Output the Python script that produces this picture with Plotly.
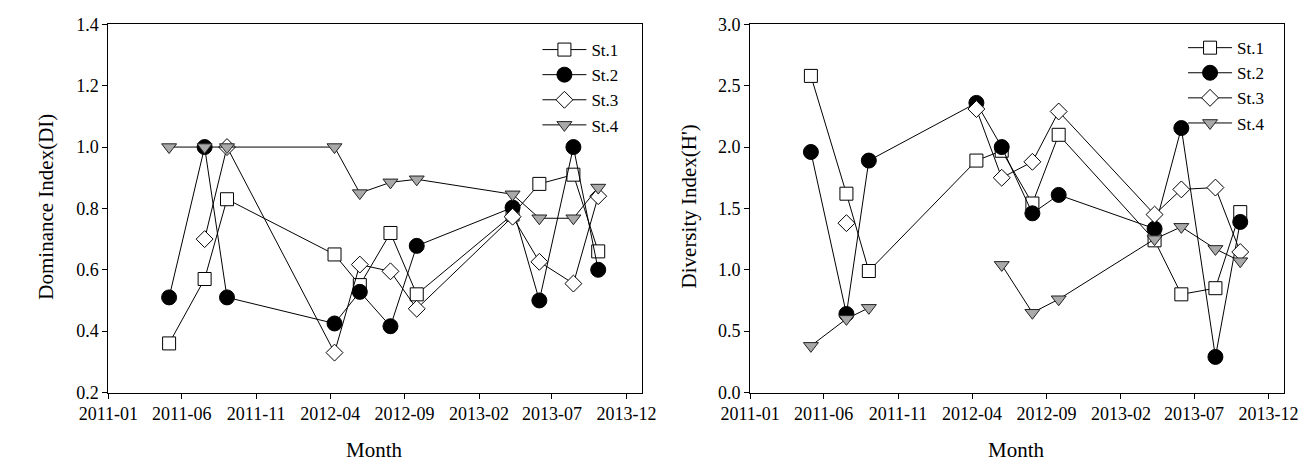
import plotly.graph_objects as go

# ---------------- data ----------------
months = ["2011-05-06", "2011-07-18", "2011-09-02", "2012-04-10", "2012-06-01",
          "2012-08-03", "2012-09-26", "2013-04-11", "2013-06-05", "2013-08-14", "2013-10-04"]
stations = ["St.1", "St.2", "St.3", "St.4"]

# Dominance Index (DI)
di_st1 = [0.36, 0.57, 0.83, 0.65, 0.55, 0.72, 0.52, 0.78, 0.88, 0.91, 0.66]
di_st2 = [0.51, 1.00, 0.51, 0.425, 0.528, 0.416, 0.678, 0.803, 0.50, 1.00, 0.60]
di_st3 = [None, 0.70, 1.00, 0.33, 0.617, 0.595, 0.473, 0.773, 0.626, 0.555, 0.84]
di_st4 = [1.00, 1.00, 1.00, 1.00, 0.85, 0.885, 0.895, 0.846, 0.768, 0.768, 0.868]

# Diversity Index (H')
h_st1 = [2.58, 1.62, 0.99, 1.89, 1.97, 1.54, 2.10, 1.24, 0.80, 0.85, 1.47]
h_st2 = [1.96, 0.64, 1.89, 2.36, 2.00, 1.46, 1.61, 1.335, 2.155, 0.29, 1.39]
h_st3 = [None, 1.38, None, 2.31, 1.75, 1.88, 2.29, 1.45, 1.655, 1.67, 1.145]
h_st4 = [0.38, 0.60, 0.69, None, 1.04, 0.65, 0.76, 1.25, 1.35, 1.17, 1.07]

# ---------------- styles ----------------
FONT = "Liberation Serif, Times New Roman, serif"
marker_styles = [
    dict(symbol="square", size=13, color="white", line=dict(color="black", width=1)),
    dict(symbol="circle", size=15, color="black", line=dict(color="black", width=1)),
    dict(symbol="diamond", size=13, color="white", line=dict(color="black", width=1)),
    dict(symbol="triangle-down", size=13, color="#a9a9a9", line=dict(color="#222222", width=1)),
]

fig = go.Figure()

for i, (name, ys) in enumerate(zip(stations, [di_st1, di_st2, di_st3, di_st4])):
    fig.add_trace(go.Scatter(
        x=months, y=ys, name=name, mode="lines+markers",
        line=dict(color="black", width=1), marker=marker_styles[i],
        connectgaps=False, xaxis="x", yaxis="y", legend="legend",
        hoverinfo="skip"))

for i, (name, ys) in enumerate(zip(stations, [h_st1, h_st2, h_st3, h_st4])):
    fig.add_trace(go.Scatter(
        x=months, y=ys, name=name, mode="lines+markers",
        line=dict(color="black", width=1), marker=marker_styles[i],
        connectgaps=False, xaxis="x2", yaxis="y2", legend="legend2",
        hoverinfo="skip"))

W, H = 1314, 470
ydom = [(H - 399.5) / H, (H - 15) / H]

xcommon = dict(type="date", range=["2011-01-01", "2014-01-01"], tick0="2011-01-01",
               dtick="M5", tickformat="%Y-%m", ticks="outside", ticklen=5,
               tickwidth=1, tickcolor="black", showline=True, linecolor="black",
               linewidth=1, mirror=True, showgrid=False, zeroline=False,
               tickfont=dict(family=FONT, size=18, color="black"))
ycommon = dict(ticks="outside", ticklen=5, tickwidth=1, tickcolor="black",
               showline=True, linecolor="black", linewidth=1, mirror=True,
               showgrid=False, zeroline=False, tickformat=".1f",
               tickfont=dict(family=FONT, size=18, color="black"))

legcommon = dict(font=dict(family=FONT, size=17, color="black"), bgcolor="rgba(0,0,0,0)",
                 borderwidth=0, itemwidth=44, yanchor="top", xanchor="left",
                 tracegroupgap=0)

fig.update_layout(
    width=W, height=H,
    margin=dict(l=0, r=0, t=0, b=0),
    paper_bgcolor="white", plot_bgcolor="white",
    showlegend=True,
    xaxis=dict(domain=[81 / W, 632.7 / W], anchor="y", **xcommon),
    yaxis=dict(domain=ydom, range=[0.2, 1.4], dtick=0.2, tick0=0.2, anchor="x", **ycommon),
    xaxis2=dict(domain=[745 / W, 1297 / W], anchor="y2", **xcommon),
    yaxis2=dict(domain=ydom, range=[0.0, 3.0], dtick=0.5, tick0=0, anchor="x2", **ycommon),
    legend=dict(x=525 / W, y=(H - 23) / H, **legcommon),
    legend2=dict(x=1193 / W, y=(H - 21) / H, **legcommon),
    annotations=[
        dict(text="Month", xref="paper", yref="paper", x=(81 + 632.7) / 2 / W, y=(H - 460) / H,
             xanchor="center", yanchor="middle", showarrow=False,
             font=dict(family=FONT, size=21, color="black")),
        dict(text="Month", xref="paper", yref="paper", x=(745 + 1297) / 2 / W, y=(H - 460) / H,
             xanchor="center", yanchor="middle", showarrow=False,
             font=dict(family=FONT, size=21, color="black")),
        dict(text="Dominance Index(DI)", xref="paper", yref="paper", x=17 / W, y=(H - 205) / H,
             xanchor="center", yanchor="middle", textangle=-90, showarrow=False,
             font=dict(family=FONT, size=21, color="black")),
        dict(text="Diversity Index(H')", xref="paper", yref="paper", x=682 / W, y=(H - 205) / H,
             xanchor="center", yanchor="middle", textangle=-90, showarrow=False,
             font=dict(family=FONT, size=21, color="black")),
    ],
)

fig.write_html("out.html")
